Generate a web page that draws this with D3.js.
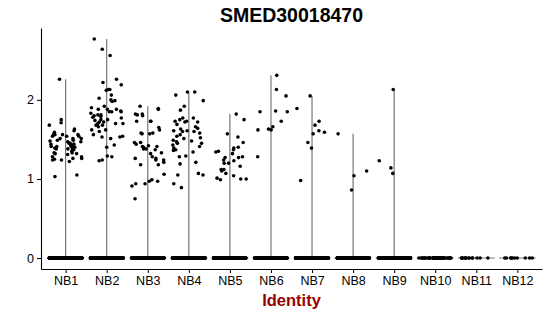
<!DOCTYPE html>
<html>
<head>
<meta charset="utf-8">
<script src="https://cdn.jsdelivr.net/npm/d3@7"></script>
<style>
body{margin:0;background:#fff;}
text{font-family:"Liberation Sans",Arial,sans-serif;}
</style>
</head>
<body>
<svg width="550" height="316"></svg>
<script>
var clusters = ["NB1","NB2","NB3","NB4","NB5","NB6","NB7","NB8","NB9","NB10","NB11","NB12"];

// expression of the cells that are not zero
var nb1 = [2.26,1.61,1.59,1.56,1.54,1.51,1.49,1.45,1.47,1.44,1.43,1.49,1.51,1.56,1.54,1.56,1.75,1.71,1.68,1.48,
    1.51,1.45,1.41,1.38,1.44,1.41,1.38,1.33,1.31,1.24,1.03,1.38,1.39,1.26,1.24,1.28,1.39,1.42,1.47,1.56,
    1.54,1.41,1.37,1.40,1.33,1.26,1.22,1.25,1.32,1.05,1.63,1.32,1.28,1.35];
var nb2 = [2.77,2.64,2.56,2.26,2.22,2.19,2.12,2.13,2.13,2.06,2.02,1.98,2.00,1.99,1.92,1.88,1.85,1.88,1.85,1.83,
    1.81,1.88,1.85,1.81,1.77,1.75,1.70,1.72,1.79,1.75,1.70,1.68,1.72,1.70,1.66,1.68,1.54,1.56,1.53,1.53,
    1.51,1.43,1.40,1.29,1.23,1.24,1.28,1.78,1.80,1.90,1.86,1.74,1.62,1.60,1.62];
var nb3 = [1.92,1.88,1.82,1.82,1.81,1.73,1.73,1.73,1.65,1.62,1.58,1.57,1.57,1.58,1.46,1.44,1.46,1.42,1.41,1.40,
    1.37,1.41,1.38,1.38,1.32,1.28,1.26,1.24,1.33,1.26,1.24,1.18,1.18,1.21,1.06,0.97,0.91,0.94,0.97,0.99,
    0.94,0.75,1.89,1.80];
var nb4 = [2.10,2.10,2.06,1.99,1.92,1.87,1.77,1.73,1.73,1.72,1.69,1.72,1.75,1.77,1.66,1.64,1.61,1.60,1.63,1.60,
    1.61,1.56,1.52,1.54,1.58,1.51,1.49,1.45,1.45,1.48,1.47,1.41,1.43,1.37,1.34,1.39,1.36,1.28,1.21,1.29,
    1.19,1.05,1.07,1.05,0.94,0.89];
var nb5 = [1.82,1.75,1.57,1.53,1.46,1.40,1.39,1.32,1.27,1.23,1.27,1.35,1.37,1.34,1.28,1.24,1.20,1.20,1.12,1.16,
    1.10,1.12,1.07,1.04,0.99,1.00,1.00,1.01];
var nb6 = [2.31,2.13,2.05,1.86,1.85,1.85,1.73,1.66,1.62,1.63,1.62,1.28];
var nb7 = [2.05,1.89,1.73,1.68,1.61,1.57,1.59,1.46,1.39,0.98];
var nb8 = [1.57,1.10,1.04,0.86];
var nb9 = [2.13,1.23,1.14,1.07];
var nb10 = [];
var nb11 = [];
var nb12 = [];

// number of cells at zero in each cluster (estimated)
var zeroCounts = [350,320,300,300,280,200,200,180,150,50,14,10];
var yTicks = [0,1,2];

var values = [nb1,nb2,nb3,nb4,nb5,nb6,nb7,nb8,nb9,nb10,nb11,nb12];

var svg = d3.select("svg");

var maxVal = d3.max(values, function(v){ return v.length ? d3.max(v) : 0; });
var pad = maxVal*0.05;

var x = d3.scalePoint()
    .domain(clusters)
    .range([41,542])
    .padding(0.6);
var y = d3.scaleLinear()
    .domain([-pad, maxVal+pad])
    .range([269,28]);
var step = x.step();

// jitter like geom_jitter(width = 0.4), fixed seed
var jitter = d3.randomUniform.source(d3.randomLcg(0.31))(-0.4,0.4);

// violins: with so many zeros they collapse into a thin stalk
var vio = svg.append("g");
clusters.forEach(function(c,i){
    var v = values[i];
    vio.append("line")
        .attr("x1", x(c)-0.45*step).attr("x2", x(c)+0.45*step)
        .attr("y1", y(0)).attr("y2", y(0))
        .attr("stroke","#555").attr("stroke-width",0.8);
    if(v.length){
        vio.append("line")
            .attr("x1", x(c)).attr("x2", x(c))
            .attr("y1", y(0)).attr("y2", y(d3.max(v)))
            .attr("stroke","#6a6a6a").attr("stroke-width",1.1);
    }
});

// points
var pts = svg.append("g");
clusters.forEach(function(c,i){
    var cells = [];
    for(let k=0;k<zeroCounts[i];k++) cells.push(0);
    cells = cells.concat(values[i]);
    pts.selectAll(null)
        .data(cells)
        .enter()
        .append("circle")
        .attr("cx", function(){ return x(c) + jitter()*step; })
        .attr("cy", function(d){ return y(d); })
        .attr("r", 1.8)
        .attr("fill","#000");
});

// axes
var yAxis = svg.append("g")
    .attr("transform","translate(41,0)")
    .call(d3.axisLeft(y).tickValues(yTicks).tickFormat(d3.format("d")).tickSize(4).tickSizeOuter(0).tickPadding(3));
var xAxis = svg.append("g")
    .attr("transform","translate(0,269)")
    .call(d3.axisBottom(x).tickSize(4).tickSizeOuter(0).tickPadding(3));

[yAxis,xAxis].forEach(function(a){
    a.select(".domain").attr("stroke","#000").attr("stroke-width",1.1);
    a.selectAll(".tick line").attr("stroke","#000").attr("stroke-width",1);
    a.selectAll(".tick text").attr("fill","#000").style("font-size","12.5px")
        .style("font-family","'Liberation Sans',Arial,sans-serif");
});

// titles
svg.append("text")
    .attr("x",291.5).attr("y",22)
    .attr("text-anchor","middle")
    .style("font-size","19.5px").style("font-weight","bold")
    .text("SMED30018470");

svg.append("text")
    .attr("x",291.5).attr("y",306)
    .attr("text-anchor","middle")
    .attr("fill","#990000")
    .style("font-size","16.5px").style("font-weight","bold")
    .text("Identity");
</script>
</body>
</html>
